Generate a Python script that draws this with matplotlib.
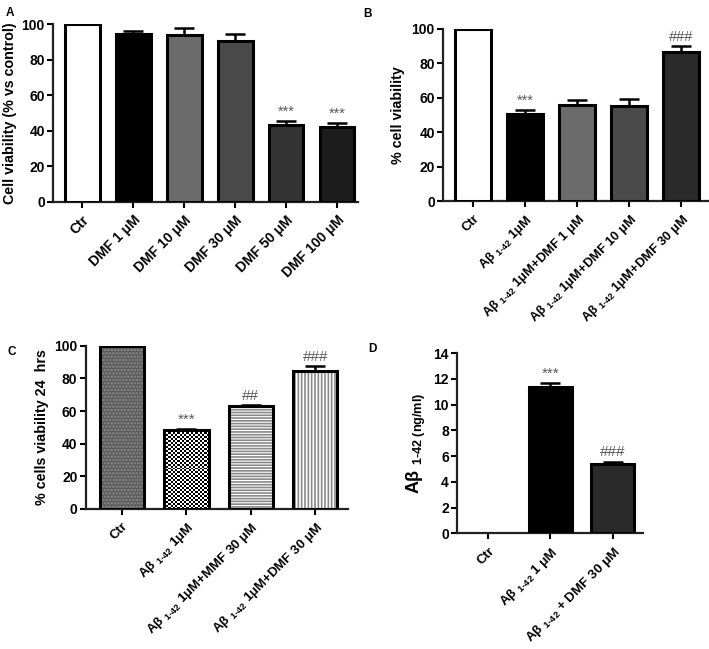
import numpy as np
import matplotlib
matplotlib.use("Agg")
import matplotlib.pyplot as plt

plt.rcParams['font.family'] = ['Liberation Sans', 'DejaVu Sans']
plt.rcParams['font.weight'] = 'bold'
plt.rcParams['mathtext.fontset'] = 'custom'
plt.rcParams['mathtext.rm'] = 'Liberation Sans:bold'
plt.rcParams['mathtext.bf'] = 'Liberation Sans:bold'
plt.rcParams['mathtext.it'] = 'Liberation Sans:bold:italic'
plt.rcParams['hatch.linewidth'] = 1.2

AB = 'Aβ'
SUB = r'$_{\text{1-42}}$'

# panel A
a_labels = ['Ctr', 'DMF 1 μM', 'DMF 10 μM', 'DMF 30 μM', 'DMF 50 μM', 'DMF 100 μM']
a_vals = [100, 94.2, 94.0, 90.6, 43.3, 42.1]
a_errs = [0, 2.0, 3.5, 4.0, 2.4, 2.1]
a_marks = ['', '', '', '', '***', '***']
a_colors = ['white', 'black', '#6b6b6b', '#4a4a4a', '#333333', '#1c1c1c']

# panel B
b_labels = ['Ctr', AB + ' ' + SUB + ' 1μM', AB + ' ' + SUB + ' 1μM+DMF 1 μM',
            AB + ' ' + SUB + ' 1μM+DMF 10 μM', AB + ' ' + SUB + ' 1μM+DMF 30 μM']
b_vals = [100, 50.6, 56.0, 55.2, 86.4]
b_errs = [0, 2.4, 2.6, 4.0, 3.4]
b_marks = ['', '***', '', '', '###']
b_colors = ['white', 'black', '#6b6b6b', '#4a4a4a', '#2a2a2a']

# panel C
c_labels = ['Ctr', AB + ' ' + SUB + ' 1μM', AB + ' ' + SUB + ' 1μM+MMF 30 μM',
            AB + ' ' + SUB + ' 1μM+DMF 30 μM']
c_vals = [100, 48.4, 63.1, 84.7]
c_errs = [0, 0.9, 0.8, 3.1]
c_marks = ['', '***', '##', '###']

# panel D
d_labels = ['Ctr', AB + ' ' + SUB + ' 1 μM', AB + ' ' + SUB + ' + DMF 30 μM']
d_vals = [0, 11.33, 5.4]
d_errs = [0, 0.35, 0.18]
d_marks = ['', '***', '###']
d_colors = ['white', 'black', '#2a2a2a']


def style_axes(ax, n, xlim, ylim, yticks, labels, label_size, ytick_size=10):
    for s in ['top', 'right']:
        ax.spines[s].set_visible(False)
    for s in ['left', 'bottom']:
        ax.spines[s].set_linewidth(1.6)
        ax.spines[s].set_color('#222222')
    ax.set_xlim(*xlim)
    ax.set_ylim(*ylim)
    ax.set_yticks(yticks)
    ax.set_xticks(np.arange(n))
    ax.set_xticklabels(labels, rotation=45, ha='right', rotation_mode='anchor',
                       fontsize=label_size, fontweight='bold')
    ax.tick_params(axis='both', direction='out', length=4, width=1.5, pad=2)
    ax.tick_params(axis='y', labelsize=ytick_size)
    ax.tick_params(axis='x', pad=4)
    for t in ax.get_yticklabels():
        t.set_fontweight('bold')


def draw_marks(ax, vals, errs, marks, size=10.5):
    for i, (v, e, m) in enumerate(zip(vals, errs, marks)):
        if m:
            ax.annotate(m, (i, v + e), xytext=(0, 1.5), textcoords='offset points',
                        ha='center', va='bottom', fontsize=size, color='#5a5a5a',
                        fontweight='normal')


def draw_err(ax, vals, errs):
    idx = [i for i, e in enumerate(errs) if e > 0]
    ax.errorbar(idx, [vals[i] for i in idx], yerr=[[0] * len(idx), [errs[i] for i in idx]],
                fmt='none', ecolor='black', elinewidth=1.8, capsize=7, capthick=1.8, zorder=2)


fig = plt.figure(figsize=(7.09, 6.49), dpi=100)

# ---- A
ax = fig.add_axes([0.075, 0.689, 0.430, 0.274])
x = np.arange(len(a_vals))
draw_err(ax, a_vals, a_errs)
ax.bar(x, a_vals, width=0.68, color=a_colors, edgecolor='black', linewidth=2.2, zorder=3)
style_axes(ax, len(a_vals), (-0.57, 5.41), (0, 100), [0, 20, 40, 60, 80, 100], a_labels, 10)
draw_marks(ax, a_vals, a_errs, a_marks)
ax.set_ylabel('Cell viability (% vs control)', fontsize=10.3, fontweight='bold', labelpad=3)

# ---- B
ax = fig.add_axes([0.625, 0.690, 0.373, 0.266])
x = np.arange(len(b_vals))
draw_err(ax, b_vals, b_errs)
ax.bar(x, b_vals, width=0.70, color=b_colors, edgecolor='black', linewidth=2.2, zorder=3)
style_axes(ax, len(b_vals), (-0.58, 4.51), (0, 100), [0, 20, 40, 60, 80, 100], b_labels, 9.3)
draw_marks(ax, b_vals, b_errs, b_marks)
ax.set_ylabel('% cell viability', fontsize=10.3, fontweight='bold', labelpad=5)

# ---- C
ax = fig.add_axes([0.121, 0.216, 0.370, 0.251])
x = np.arange(len(c_vals))
draw_err(ax, c_vals, c_errs)
c_face = ['#5a5a5a', 'white', 'white', 'white']
c_hatch_col = ['#8c8c8c', 'black', '#8a8a8a', '#8a8a8a']
c_hatch = ['.....', '', '------', '|||||']
w = 0.69
for i in range(len(c_vals)):
    ax.bar(x[i], c_vals[i], width=w, color=c_face[i], edgecolor=c_hatch_col[i],
           hatch=c_hatch[i], linewidth=0, zorder=3)
# checkerboard texture for the A-beta bar
checker = (np.add.outer(np.arange(40), np.arange(20)) % 2).astype(float)
im = ax.imshow(checker, cmap='gray_r', vmin=0, vmax=1, interpolation='nearest',
               extent=[x[1] - w / 2, x[1] + w / 2, 0, c_vals[1]], aspect='auto', zorder=3.5)
outline = ax.bar(x, c_vals, width=w, fill=False, edgecolor='black', linewidth=2.2, zorder=4)
im.set_clip_path(outline[1])
style_axes(ax, len(c_vals), (-0.56, 3.51), (0, 100), [0, 20, 40, 60, 80, 100], c_labels, 9.5)
draw_marks(ax, c_vals, c_errs, c_marks, size=11)
ax.set_ylabel('% cells viability 24  hrs', fontsize=10.3, fontweight='bold', labelpad=4)

# ---- D
ax = fig.add_axes([0.645, 0.178, 0.262, 0.278])
x = np.arange(len(d_vals))
draw_err(ax, d_vals, d_errs)
d_edges = ['black' if v > 0 else 'none' for v in d_vals]
ax.bar(x, d_vals, width=0.69, color=d_colors, edgecolor=d_edges, linewidth=2.2, zorder=3)
style_axes(ax, len(d_vals), (-0.50, 2.49), (0, 14), [0, 2, 4, 6, 8, 10, 12, 14], d_labels, 9.6)
draw_marks(ax, d_vals, d_errs, d_marks, size=11)
ax.set_ylabel(AB + r' $_{\text{1-42 (ng/ml)}}$', fontsize=13, fontweight='bold', labelpad=4)

for lab, px, py in [('A', 0.008, 0.980), ('B', 0.513, 0.978), ('C', 0.010, 0.458), ('D', 0.520, 0.462)]:
    fig.text(px, py, lab, fontsize=8.5, fontweight='bold', ha='left', va='center')

fig.savefig('out.png', dpi=100)
